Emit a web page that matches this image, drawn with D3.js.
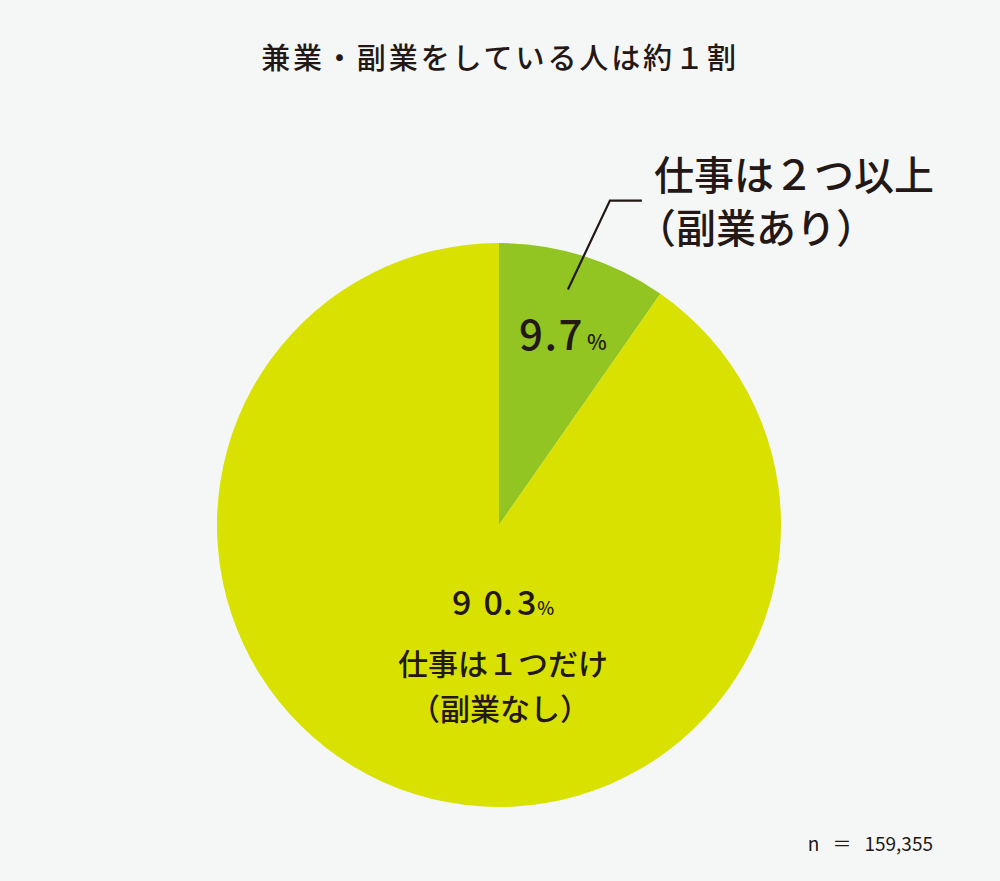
<!DOCTYPE html>
<html><head><meta charset="utf-8">
<script src="https://cdn.jsdelivr.net/npm/d3@7"></script>
<style>
html,body{margin:0;padding:0;background:#f5f7f6;}
svg{display:block;}
text{font-family:"Noto Sans CJK JP","Noto Sans",sans-serif;fill:#231815;}
</style></head>
<body>
<script>
const categories = ["仕事は２つ以上（副業あり）", "仕事は１つだけ（副業なし）"];
const values = [9.7, 90.3];
const colors = ["#92c422", "#d9e100"];
const title = "兼業・副業をしている人は約１割";
const sampleSize = "159,355";

const W = 1000, H = 881;
const cx = 499, cy = 525, R = 282;

const svg = d3.select("body").append("svg").attr("width", W).attr("height", H);
svg.append("rect").attr("width", W).attr("height", H).attr("fill", "#f5f7f6");

svg.append("text").attr("x", 500).attr("y", 69).attr("text-anchor", "middle")
  .attr("font-size", 29).attr("letter-spacing", 2.9).attr("font-weight", 500).text(title);

const pie = d3.pie().sort(null).value(d => d)(values);
const arc = d3.arc().innerRadius(0).outerRadius(R);
const g = svg.append("g").attr("transform", `translate(${cx},${cy})`);
g.selectAll("path").data(pie).join("path").attr("d", arc).attr("fill", (d, i) => colors[i]);

// leader line for small slice
const a0 = pie[0];
const mid = (a0.startAngle + a0.endAngle) / 2 - 0.02;
const p1 = [Math.sin(mid) * R * 0.87, -Math.cos(mid) * R * 0.87];
const p2 = [p1[0] + 42, p1[1] - 89];
const p3 = [p2[0] + 32, p2[1]];
g.append("path").attr("d", d3.line()([p1, p2, p3])).attr("fill", "none")
  .attr("stroke", "#231815").attr("stroke-width", 2.2);

// small slice labels
svg.append("text").attr("x", 654).attr("y", 190).attr("font-size", 40).attr("font-weight", 500).text(categories[0].slice(0, 7));
svg.append("text").attr("x", 636).attr("y", 243).attr("font-size", 40).attr("font-weight", 500).text(categories[0].slice(7));

const p97 = svg.append("text").attr("x", 519).attr("y", 350).attr("font-weight", 500);
p97.append("tspan").attr("font-size", 42).attr("letter-spacing", 1.5).text(values[0].toFixed(1));
p97.append("tspan").attr("font-size", 21).attr("dx", 3).text("%");

// big slice labels
const s = values[1].toFixed(1);
const p90 = svg.append("text").attr("x", 452).attr("y", 615).attr("font-weight", 500).attr("font-size", 34);
p90.append("tspan").attr("letter-spacing", 12).text(s[0]);
p90.append("tspan").text(s[1]);
p90.append("tspan").attr("letter-spacing", 4).text(s[2]);
p90.append("tspan").text(s[3]);
p90.append("tspan").attr("font-size", 18).attr("dx", 1).text("%");

svg.append("text").attr("x", 398).attr("y", 675).attr("font-size", 30).attr("font-weight", 500).text(categories[1].slice(0, 7));
svg.append("text").attr("x", 410).attr("y", 720).attr("font-size", 30).attr("font-weight", 500).text(categories[1].slice(7));

const nt = svg.append("text").attr("x", 933).attr("y", 851).attr("text-anchor", "end").attr("font-size", 19);
nt.append("tspan").text("n");
nt.append("tspan").attr("dx", 13).text("＝");
nt.append("tspan").attr("dx", 13).text(sampleSize);
</script>
</body></html>
